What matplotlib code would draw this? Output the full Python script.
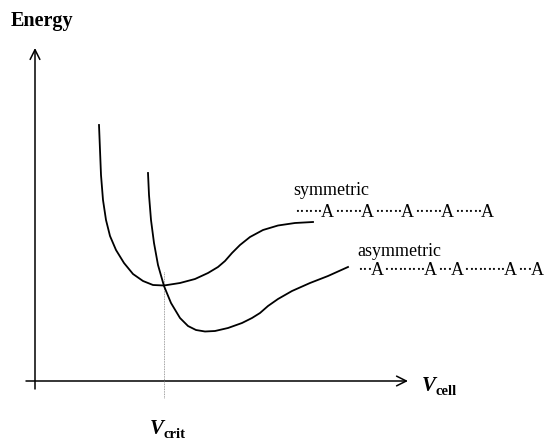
import matplotlib.pyplot as plt
from matplotlib.patches import FancyArrowPatch

# curve points (pixel units, y grows downward)
sym_x = [99, 100, 101, 103, 106, 110, 116, 124, 133, 143, 153, 164, 180, 195, 208,
         218, 225, 232, 240, 250, 263, 278, 295, 313]
sym_y = [125, 150, 175, 200, 220, 236, 250, 263, 274, 281, 285, 285.5, 283, 279, 273,
         267, 261, 253, 245, 237, 230, 225.5, 223, 222]

asym_x = [148, 149, 151, 154, 158, 164, 171, 180, 188, 196, 205, 215, 228, 242,
          252, 260, 268, 278, 292, 310, 328, 348]
asym_y = [173, 195, 220, 243, 265, 286, 303, 318, 326, 330, 331.5, 331, 328, 323,
          318, 313, 306, 299, 291, 283, 276, 267]

v_crit = 164
sym_chain = "······A······A······A······A······A"
asym_chain = "···A·········A···A·········A···A"

fig = plt.figure(figsize=(5.44, 4.41), dpi=100)
ax = fig.add_axes([0, 0, 1, 1])
ax.set_xlim(0, 544)
ax.set_ylim(441, 0)
ax.axis('off')

serif = 'Liberation Serif'


def chain(x, y, s):
    # dots set tight, letters at full width
    for ch in s:
        ax.text(x, y, ch, fontsize=13, family=serif, va='baseline', ha='left')
        x += 4.5 if ch == '·' else 13


# axes with open arrow heads
ax.add_patch(FancyArrowPatch((35, 389), (35, 48), arrowstyle='->,head_length=7,head_width=3.5',
                             color='black', lw=1.1, shrinkA=0, shrinkB=0))
ax.add_patch(FancyArrowPatch((26, 381), (408, 381), arrowstyle='->,head_length=7,head_width=3.5',
                             color='black', lw=1.1, shrinkA=0, shrinkB=0))

# dotted line at V_crit
ax.plot([v_crit, v_crit], [272, 398], color='gray', lw=0.6, ls=(0, (1, 1)))

ax.plot(sym_x, sym_y, color='black', lw=1.3)
ax.plot(asym_x, asym_y, color='black', lw=1.3)

ax.text(11, 26, 'Energy', fontsize=14.5, fontweight='bold', family=serif, va='baseline', ha='left')
ax.text(422, 391, 'V', fontsize=15, fontweight='bold', style='italic', family=serif,
        va='baseline', ha='left')
ax.text(435, 395, 'cell', fontsize=10.5, fontweight='bold', family=serif, va='baseline', ha='left')
ax.text(150, 434, 'V', fontsize=15, fontweight='bold', style='italic', family=serif,
        va='baseline', ha='left')
ax.text(163, 438.5, 'crit', fontsize=10.5, fontweight='bold', family=serif, va='baseline', ha='left')

ax.text(293, 195, 'symmetric', fontsize=13, family=serif, va='baseline', ha='left')
chain(294, 217, sym_chain)
ax.text(357, 256, 'asymmetric', fontsize=13, family=serif, va='baseline', ha='left')
chain(357, 275, asym_chain)

fig.savefig('out.png', dpi=100)
